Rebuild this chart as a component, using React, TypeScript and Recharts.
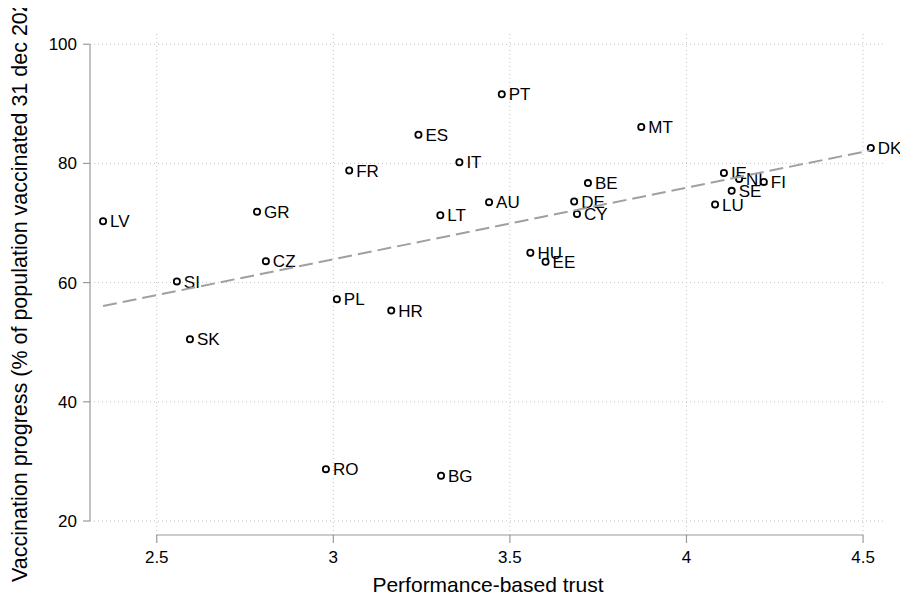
import {
  ScatterChart,
  Scatter,
  XAxis,
  YAxis,
  ReferenceLine,
  Label,
} from "recharts"

const countries = [
  "PT", "ES", "IT", "FR", "IE", "NL", "FI", "SE", "LU", "AU", "LT", "BE", "DE", "CY",
  "HU", "EE", "PL", "HR", "DK", "MT", "LV", "GR", "CZ", "SI", "SK", "RO", "BG",
]
const trust = [
  3.477, 3.241, 3.357, 3.045, 4.106, 4.149, 4.219, 4.128, 4.081, 3.441, 3.303, 3.721, 3.682, 3.69,
  3.558, 3.601, 3.01, 3.164, 4.522, 3.872, 2.348, 2.784, 2.809, 2.557, 2.594, 2.979, 3.305,
]
const vaccinated = [
  91.6, 84.8, 80.2, 78.8, 78.4, 77.4, 76.9, 75.4, 73.1, 73.5, 71.3, 76.7, 73.6, 71.5,
  65.0, 63.5, 57.2, 55.3, 82.6, 86.1, 70.3, 71.9, 63.6, 60.2, 50.5, 28.7, 27.6,
]

// fitted line endpoints
const fitX = [2.348, 4.522]
const fitY = [56.07, 82.2]

const xTicks = [2.5, 3, 3.5, 4, 4.5]
const yTicks = [20, 40, 60, 80, 100]

const X_MIN = 2.311
const X_MAX = 4.565
const Y_MIN = 17.65
const Y_MAX = 102.05

const FONT = "'Liberation Sans', Arial, Helvetica, sans-serif"
const AXIS_GRAY = "#9a9a9a"
const GRID_GRAY = "#c4c4c4"

const points = countries.map((code, i) => ({ code, x: trust[i], y: vaccinated[i] }))
const fitData = fitX.map((x, i) => ({ x, y: fitY[i] }))

function CountryDot(props: any) {
  const { cx, cy, payload } = props
  if (cx == null || cy == null) return <g />
  return (
    <g>
      <circle cx={cx} cy={cy} r={3.1} fill="#fff" stroke="#000" strokeWidth={1.8} />
      <text
        x={cx + 7}
        y={cy}
        dy="0.36em"
        fontSize={17}
        fontFamily={FONT}
        fill="#000"
      >
        {payload.code}
      </text>
    </g>
  )
}

function YTitle(props: any) {
  const vb = props.viewBox || { x: 0, y: 0, width: 0, height: 0 }
  const x = vb.x - 3
  const y = vb.y + vb.height / 2 - 2
  return (
    <text
      x={x}
      y={y}
      transform={`rotate(-90 ${x} ${y})`}
      textAnchor="middle"
      fontSize={21.5}
      fontFamily={FONT}
      fill="#000"
    >
      Vaccination progress (% of population vaccinated 31 dec 2021)
    </text>
  )
}

function XTitle(props: any) {
  const vb = props.viewBox || { x: 0, y: 0, width: 0, height: 0 }
  return (
    <text
      x={vb.x + vb.width / 2}
      y={vb.y + 57}
      textAnchor="middle"
      fontSize={21}
      fontFamily={FONT}
      fill="#000"
    >
      Performance-based trust
    </text>
  )
}

export default function App() {
  return (
    <div style={{ width: 900, height: 593, fontFamily: FONT }}>
      <ScatterChart
        width={900}
        height={593}
        margin={{ top: 24, right: 22, bottom: 16, left: 22 }}
      >
        <XAxis
          type="number"
          dataKey="x"
          domain={[X_MIN, X_MAX]}
          ticks={xTicks}
          height={50}
          axisLine={false}
          tickLine={{ stroke: AXIS_GRAY, strokeWidth: 1.2 }}
          tickSize={8}
          tickMargin={8}
          tick={{ fill: "#000", fontSize: 17, fontFamily: FONT }}
        >
          <Label content={<XTitle />} />
        </XAxis>
        <YAxis
          type="number"
          dataKey="y"
          domain={[Y_MIN, Y_MAX]}
          ticks={yTicks}
          width={60}
          axisLine={false}
          tickLine={{ stroke: AXIS_GRAY, strokeWidth: 1.2 }}
          tickSize={7}
          tickMargin={6}
          tick={{ fill: "#000", fontSize: 17, fontFamily: FONT }}
        >
          <Label content={<YTitle />} />
        </YAxis>
        {xTicks.map((v) => (
          <ReferenceLine
            key={`gx${v}`}
            x={v}
            stroke={GRID_GRAY}
            strokeDasharray="1 3"
            ifOverflow="visible"
          />
        ))}
        {yTicks.map((v) => (
          <ReferenceLine
            key={`gy${v}`}
            y={v}
            stroke={GRID_GRAY}
            strokeDasharray="1 3"
            ifOverflow="visible"
          />
        ))}
        <ReferenceLine
          segment={[
            { x: xTicks[0], y: Y_MIN },
            { x: xTicks[xTicks.length - 1], y: Y_MIN },
          ]}
          stroke={AXIS_GRAY}
          strokeWidth={1.2}
          ifOverflow="visible"
        />
        <ReferenceLine
          segment={[
            { x: X_MIN, y: yTicks[0] },
            { x: X_MIN, y: yTicks[yTicks.length - 1] },
          ]}
          stroke={AXIS_GRAY}
          strokeWidth={1.2}
          ifOverflow="visible"
        />
        <Scatter
          data={points}
          shape={<CountryDot />}
          isAnimationActive={false}
        />
        <Scatter
          data={fitData}
          line={{ stroke: "#a0a0a0", strokeWidth: 2, strokeDasharray: "14 6" }}
          shape={() => <g />}
          isAnimationActive={false}
        />
      </ScatterChart>
    </div>
  )
}
